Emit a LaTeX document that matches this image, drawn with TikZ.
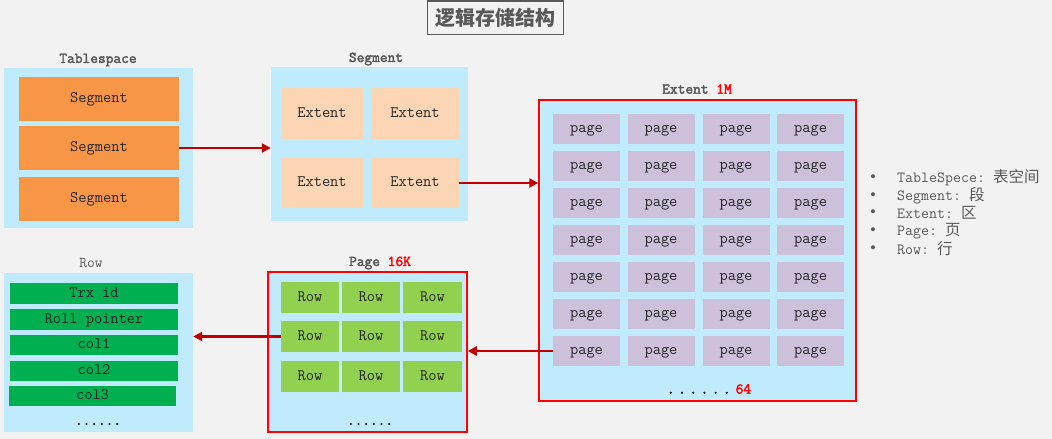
\documentclass[tikz,border=0pt]{standalone}
\usepackage{fontspec}
\setmonofont{Latin Modern Mono}[AutoFakeBold=2.5]
\newfontfamily\cjk{Noto Sans CJK SC}
\usetikzlibrary{arrows.meta}
\definecolor{bgc}{HTML}{F2F2F2}
\definecolor{blk}{HTML}{BFEBFC}
\definecolor{orng}{HTML}{F79646}
\definecolor{peach}{HTML}{FCD5B4}
\definecolor{lav}{HTML}{CCC0DA}
\definecolor{grn}{HTML}{00B050}
\definecolor{lgrn}{HTML}{92D050}
\definecolor{arrc}{HTML}{C00000}
\definecolor{txt}{HTML}{262626}
\definecolor{lbl}{HTML}{595959}
\begin{document}
\begin{tikzpicture}[x=1pt,y=-1pt,
  font=\ttfamily\fontsize{16}{18}\selectfont,
  blkbox/.style={fill=blk,draw=none,inner sep=0pt},
  redbox/.style={fill=blk,draw=red,line width=1.5pt,inner sep=0pt},
  cell/.style={inner sep=0pt,text=txt,text height=9pt,text depth=2pt},
  lab/.style={text=lbl,font=\ttfamily\bfseries\fontsize{15}{17}\selectfont,inner sep=0pt},
  arr/.style={draw=arrc,line width=2.5pt,-{Triangle[length=9pt,width=9pt]}},
  leg/.style={text=lbl,anchor=west,inner sep=0pt,font=\ttfamily\fontsize{15.5}{17}\selectfont},
  dots/.style={inner sep=0pt,font=\ttfamily\bfseries\fontsize{15}{17}\selectfont},
]
\fill[bgc] (0,0) rectangle (1052,439);
\useasboundingbox (0,0) rectangle (1052,439);

% title
\node[draw=lbl,line width=1pt,fill=bgc,minimum width=136pt,minimum height=33pt,inner sep=0pt,text=lbl,font=\cjk\bfseries\fontsize{20}{22}\selectfont] (title) at (495,17.5) {逻辑存储结构};

% Tablespace
\node[lab] (tslab) at (98,60) {Tablespace};
\node[blkbox,minimum width=189pt,minimum height=160pt] (ts) at (98.5,148) {};
\node[cell,fill=orng,minimum width=160pt,minimum height=44pt] (s1) at (99,99) {Segment};
\node[cell,fill=orng,minimum width=160pt,minimum height=44pt] (s2) at (99,148) {Segment};
\node[cell,fill=orng,minimum width=160pt,minimum height=44pt] (s3) at (99,198.5) {Segment};

% Segment
\node[lab] (seglab) at (376,59) {Segment};
\node[blkbox,minimum width=197pt,minimum height=154pt] (seg) at (369.5,144) {};
\node[cell,fill=peach,minimum width=82pt,minimum height=51pt] (e1) at (322,113.5) {Extent};
\node[cell,fill=peach,minimum width=88pt,minimum height=51pt] (e2) at (415,113.5) {Extent};
\node[cell,fill=peach,minimum width=82pt,minimum height=50pt] (e3) at (322,183) {Extent};
\node[cell,fill=peach,minimum width=88pt,minimum height=50pt] (e4) at (415,183) {Extent};

% Extent
\node[lab] (extlab) at (697,89) {Extent \textcolor{red}{1M}};
\node[redbox,minimum width=317pt,minimum height=301pt] (ext) at (697.5,250.5) {};
\foreach \r in {1,...,7}{
  \foreach \c/\cx in {1/586.5,2/661,3/736,4/810.5}{
    \node[cell,fill=lav,minimum width=67pt,minimum height=30pt] (p\r\c) at (\cx,{129+37*(\r-1)}) {page};
  }
}
\node[dots] (extdots) at (709,389) {.\hspace{3.5pt}.\hspace{3.5pt}.\hspace{3.5pt}.\hspace{3.5pt}.\hspace{3.5pt}.\hspace{5pt}\textcolor{red}{64}};

% Page
\node[lab] (pglab) at (380,263) {Page \textcolor{red}{16K}};
\node[redbox,minimum width=199pt,minimum height=160pt] (pg) at (367.5,352) {};
\foreach \r/\ry in {1/297.5,2/336.5,3/376.5}{
  \foreach \c/\cx/\w in {1/310/58,2/371/58,3/432.5/59}{
    \node[cell,fill=lgrn,minimum width=\w pt,minimum height=31pt] (r\r\c) at (\cx,\ry) {Row};
  }
}
\node[dots] (pgdots) at (370,424) {......};

% Row
\node[lab,font=\ttfamily\fontsize{15}{17}\selectfont] (rowlab) at (91,263) {Row};
\node[blkbox,minimum width=189pt,minimum height=159pt] (row) at (98.5,352.5) {};
\node[cell,fill=grn,minimum width=168pt,minimum height=21pt] (b1) at (94,293.5) {Trx id};
\node[cell,fill=grn,minimum width=168pt,minimum height=21pt] (b2) at (94,319.5) {Roll pointer};
\node[cell,fill=grn,minimum width=168pt,minimum height=20pt] (b3) at (94,345) {col1};
\node[cell,fill=grn,minimum width=168pt,minimum height=20pt] (b4) at (94,371) {col2};
\node[cell,fill=grn,minimum width=167pt,minimum height=20pt] (b5) at (92.5,396) {col3};
\node[dots] (rowdots) at (98,424) {......};

% arrows
\draw[arr] (s2.east) -- (s2.east -| seg.west);
\draw[arr] (e4.east) -- (e4.east -| ext.west);
\draw[arr] (p71.west) -- (p71.west -| pg.east);
\draw[arr] (r21.west) -- (r21.west -| row.east);

% legend
\foreach \i/\ly/\t in {1/178/{TableSpece: {\cjk 表空间}},2/196/{Segment: {\cjk 段}},3/213/{Extent: {\cjk 区}},4/231/{Page: {\cjk 页}},5/249/{Row: {\cjk 行}}}{
  \node[leg] (legb\i) at (869,\ly) {\textbullet};
  \node[leg] (leg\i) at (897,\ly) {\t};
}
\end{tikzpicture}
\end{document}
